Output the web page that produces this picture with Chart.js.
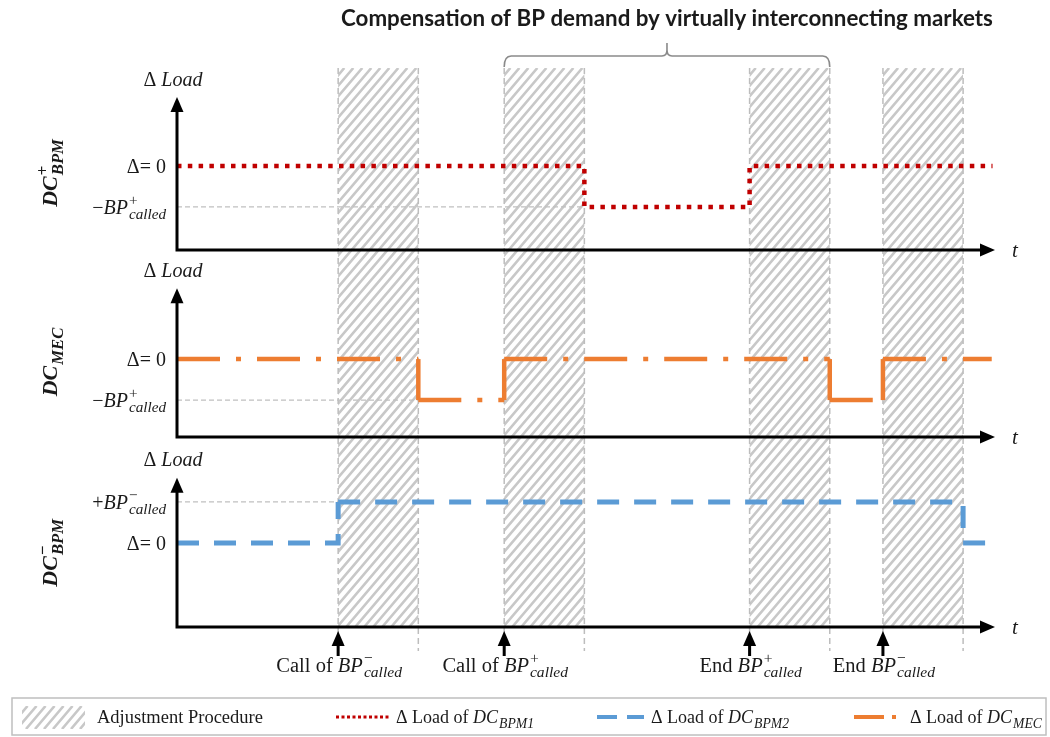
<!DOCTYPE html>
<html>
<head>
<meta charset="utf-8">
<script src="https://cdn.jsdelivr.net/npm/chart.js@4.4.1/dist/chart.umd.min.js"></script>
<style>
  html, body { margin: 0; padding: 0; background: #fff; }
  #wrap { position: relative; width: 1050px; height: 737px; }
</style>
</head>
<body>
<div id="wrap"><canvas id="chart" width="1050" height="737"></canvas></div>
<script>
// time runs 0..100, load is in units of BP_called
var bandStart = [19.7, 40.0, 70.0, 86.3];   // adjustment procedures
var bandEnd = [29.5, 49.8, 79.8, 96.1];

var bpm1X = [0, 49.8, 70.0, 99.7];          // DC+_BPM (red, dotted), step points
var bpm1Y = [0, -1, 0, 0];
var mecX = [0, 29.5, 29.5, 40.0, 40.0, 79.8, 79.8, 86.3, 86.3, 99.6]; // DC_MEC (orange), corner points
var mecY = [0, 0, -1, -1, 0, 0, -1, -1, 0, 0];
var bpm2X = [0, 19.7, 96.1, 98.8];          // DC-_BPM (blue, dashed), step points
var bpm2Y = [0, 1, 0, 0];

var topTicks = [0, -1];
var midTicks = [0, -1];
var botTicks = [1, 0];

var eventX = [19.7, 40.0, 70.0, 86.3];
var eventWord = ['Call of ', 'Call of ', 'End ', 'End '];
var eventSign = ['\u2212', '+', '+', '\u2212'];

var titleText = 'Compensation of BP demand by virtually interconnecting markets';

var SERIF = '"Liberation Serif", "DejaVu Serif", serif';
var SANS = 'Lato, "Open Sans", "Liberation Sans", sans-serif';
var INK = '#1a1a1a';
var SCRIPT = 0.76;

function pts(xs, ys) {
    return xs.map(function (x, i) { return { x: x, y: ys[i] }; });
}

// restart the dash pattern on every piece, like the original drawing
var restartDash = { borderDashOffset: function (c) { return c.p0DataIndex % 2 ? 0.01 : 0; } };

function fontFor(p, size) {
    return (p.i ? 'italic ' : '') + (p.b ? 'bold ' : '') + size + 'px ' + SERIF;
}

function richWidth(ctx, parts, size) {
    var w = 0;
    parts.forEach(function (p) {
        if (p.t !== undefined) {
            ctx.font = fontFor(p, size);
            w += ctx.measureText(p.t).width;
        } else {
            var ss = size * SCRIPT, sw = 0;
            ctx.font = fontFor({ b: p.b }, ss);
            if (p.sup) sw = ctx.measureText(p.sup).width;
            ctx.font = fontFor({ i: true, b: p.b }, ss);
            if (p.sub) sw = Math.max(sw, ctx.measureText(p.sub).width);
            w += sw + 1;
        }
    });
    return w;
}

// y is the vertical middle of the main text
function drawRich(ctx, parts, x, y, size, align) {
    var w = richWidth(ctx, parts, size);
    var cx = align === 'right' ? x - w : (align === 'center' ? x - w / 2 : x);
    var base = y + size * 0.33;
    ctx.textAlign = 'left';
    ctx.textBaseline = 'alphabetic';
    ctx.fillStyle = INK;
    parts.forEach(function (p) {
        if (p.t !== undefined) {
            ctx.font = fontFor(p, size);
            ctx.fillText(p.t, cx, base);
            cx += ctx.measureText(p.t).width;
        } else {
            var ss = size * SCRIPT, sw = 0;
            if (p.sup) {
                ctx.font = fontFor({ b: p.b }, ss);
                ctx.fillText(p.sup, cx + 1, base - size * 0.42);
                sw = ctx.measureText(p.sup).width;
            }
            if (p.sub) {
                ctx.font = fontFor({ i: true, b: p.b }, ss);
                ctx.fillText(p.sub, cx + 1, base + size * 0.27);
                sw = Math.max(sw, ctx.measureText(p.sub).width);
            }
            cx += sw + 1;
        }
    });
}

function hatch(ctx, x0, x1, top, bot, gap, width) {
    ctx.save();
    ctx.beginPath();
    ctx.rect(x0, top, x1 - x0, bot - top);
    ctx.clip();
    ctx.strokeStyle = '#c8c8c8';
    ctx.lineWidth = width;
    ctx.beginPath();
    var h = bot - top;
    for (var s = x0 - h; s < x1 + gap; s += gap) {
        ctx.moveTo(s, bot);
        ctx.lineTo(s + h * 0.85, top);
    }
    ctx.stroke();
    ctx.restore();
}

function arrowHead(ctx, tx, ty, dir) {
    // dir: 'up' or 'right'
    ctx.beginPath();
    if (dir === 'up') {
        ctx.moveTo(tx, ty);
        ctx.lineTo(tx - 6.5, ty + 15);
        ctx.lineTo(tx + 6.5, ty + 15);
    } else {
        ctx.moveTo(tx, ty);
        ctx.lineTo(tx - 15, ty - 6.5);
        ctx.lineTo(tx - 15, ty + 6.5);
    }
    ctx.closePath();
    ctx.fill();
}

function levelParts(v, sign) {
    if (v === 0) return [{ t: '\u0394= 0' }];
    return [{ t: v < 0 ? '\u2212' : '+' }, { t: 'BP', i: true }, { sup: sign, sub: 'called' }];
}

var panels = [
    { axis: 'yTop', ticks: topTicks, sign: '+', series: 0, arrow: 1.68, nameAt: -0.17,
      name: [{ t: 'DC', i: true, b: true }, { sup: '+', sub: 'BPM', b: true }] },
    { axis: 'yMid', ticks: midTicks, sign: '+', series: 1, arrow: 1.73, nameAt: -0.07,
      name: [{ t: 'DC', i: true, b: true }, { sub: 'MEC', b: true }] },
    { axis: 'yBot', ticks: botTicks, sign: '\u2212', series: 2, arrow: 1.59, nameAt: -0.24,
      name: [{ t: 'DC', i: true, b: true }, { sup: '\u2212', sub: 'BPM', b: true }] }
];

var diagram = {
    id: 'diagram',
    beforeDatasetsDraw: function (chart) {
        var ctx = chart.ctx, x = chart.scales.x, area = chart.chartArea;
        var bot = chart.scales.yBot.bottom;
        ctx.save();
        // hatched adjustment bands
        for (var i = 0; i < bandStart.length; i++) {
            var a = x.getPixelForValue(bandStart[i]), b = x.getPixelForValue(bandEnd[i]);
            hatch(ctx, a, b, area.top, bot, 9, 2.6);
            ctx.strokeStyle = '#bdbdbd';
            ctx.lineWidth = 1.5;
            ctx.setLineDash([6, 4]);
            ctx.beginPath();
            ctx.moveTo(a, area.top); ctx.lineTo(a, bot + 24);
            ctx.moveTo(b, area.top); ctx.lineTo(b, bot + 24);
            ctx.stroke();
            ctx.setLineDash([]);
        }
        // grey reference lines at the non-zero level
        panels.forEach(function (p) {
            var ys = chart.scales[p.axis];
            var d = chart.data.datasets[p.series].data;
            p.ticks.forEach(function (v) {
                if (v === 0) return;
                var end = d.find(function (q) { return q.y === v; });
                var py = ys.getPixelForValue(v);
                ctx.strokeStyle = '#c0c0c0';
                ctx.lineWidth = 1.2;
                ctx.setLineDash([5, 3]);
                ctx.beginPath();
                ctx.moveTo(area.left, py);
                ctx.lineTo(x.getPixelForValue(end.x), py);
                ctx.stroke();
                ctx.setLineDash([]);
            });
        });
        ctx.restore();
    },
    afterDatasetsDraw: function (chart) {
        var ctx = chart.ctx, x = chart.scales.x, area = chart.chartArea;
        ctx.save();
        ctx.fillStyle = '#000';
        ctx.strokeStyle = '#000';
        panels.forEach(function (p) {
            var ys = chart.scales[p.axis];
            var y0 = ys.bottom, tip = ys.getPixelForValue(p.arrow);
            // axes
            ctx.lineWidth = 3;
            ctx.strokeStyle = '#000';
            ctx.beginPath();
            ctx.moveTo(area.left, y0); ctx.lineTo(area.left, tip + 10);
            ctx.moveTo(area.left - 1.5, y0); ctx.lineTo(area.right - 10, y0);
            ctx.stroke();
            ctx.fillStyle = '#000';
            arrowHead(ctx, area.left, tip, 'up');
            arrowHead(ctx, area.right, y0, 'right');
            // axis titles
            drawRich(ctx, [{ t: '\u0394 ' }, { t: 'Load', i: true }], area.left - 4, tip - 18, 20, 'center');
            drawRich(ctx, [{ t: 't', i: true }], area.right + 20, y0, 21, 'center');
            // level labels
            p.ticks.forEach(function (v) {
                drawRich(ctx, levelParts(v, p.sign), area.left - 11, ys.getPixelForValue(v), 20, 'right');
            });
            // panel name, rotated
            ctx.save();
            ctx.translate(50, ys.getPixelForValue(p.nameAt));
            ctx.rotate(-Math.PI / 2);
            drawRich(ctx, p.name, 0, 0, 22, 'center');
            ctx.restore();
        });

        // event arrows and labels under the last panel
        var yb = chart.scales.yBot.bottom;
        eventX.forEach(function (v, i) {
            var px = x.getPixelForValue(v);
            ctx.fillStyle = '#000';
            arrowHead(ctx, px, yb + 4, 'up');
            ctx.fillRect(px - 1.5, yb + 15, 3, 14);
            drawRich(ctx, [{ t: eventWord[i] }, { t: 'BP', i: true }, { sup: eventSign[i], sub: 'called' }],
                px + 1, yb + 38, 20.5, 'center');
        });

        // title and brace over the compensated period
        var b0 = x.getPixelForValue(bandStart[1]), b1 = x.getPixelForValue(bandEnd[2]);
        var bm = (b0 + b1) / 2;
        ctx.fillStyle = INK;
        ctx.font = 'bold 20px ' + SANS;
        var tw = ctx.measureText(titleText).width;
        var ts = 20 * 652 / tw;
        ctx.font = 'bold ' + ts.toFixed(2) + 'px ' + SANS;
        ctx.textAlign = 'center';
        ctx.textBaseline = 'middle';
        ctx.fillText(titleText, bm, 19);
        ctx.strokeStyle = '#8a8a8a';
        ctx.lineWidth = 1.6;
        ctx.beginPath();
        ctx.moveTo(b0, 67);
        ctx.quadraticCurveTo(b0, 56, b0 + 7, 56);
        ctx.lineTo(bm - 5, 56);
        ctx.quadraticCurveTo(bm, 56, bm, 50);
        ctx.lineTo(bm, 43);
        ctx.moveTo(bm, 50);
        ctx.quadraticCurveTo(bm, 56, bm + 5, 56);
        ctx.lineTo(b1 - 7, 56);
        ctx.quadraticCurveTo(b1, 56, b1, 67);
        ctx.stroke();

        // legend box
        ctx.strokeStyle = '#bfbfbf';
        ctx.lineWidth = 1.5;
        ctx.strokeRect(12, 698, 1034, 37);
        var ly = 717;
        hatch(ctx, 22, 85, 706, 729, 9, 2.6);
        drawRich(ctx, [{ t: 'Adjustment Procedure' }], 97, ly, 18.5, 'left');
        var ds = chart.data.datasets;
        var sw = [[336, 389, [3, 2.5], 3], [597, 644, [20, 10], 4], [854, 903, [30, 8, 4, 8], 4]];
        var order = [0, 2, 1];
        var subs = ['BPM1', 'BPM2', 'MEC'];
        sw.forEach(function (s, k) {
            var d = ds[order[k]];
            ctx.strokeStyle = d.borderColor;
            ctx.lineWidth = s[3];
            ctx.setLineDash(s[2]);
            ctx.beginPath();
            ctx.moveTo(s[0], ly); ctx.lineTo(s[1], ly);
            ctx.stroke();
            ctx.setLineDash([]);
            drawRich(ctx, [{ t: '\u0394 Load of ' }, { t: 'DC', i: true }, { sub: subs[k] }], s[1] + 7, ly, 18, 'left');
        });
        ctx.restore();
    }
};

function hiddenAxis(weight, stackWeight, min, max) {
    return {
        type: 'linear', position: 'left', stack: 'panels', stackWeight: stackWeight, weight: weight,
        min: min, max: max,
        ticks: { display: false },
        grid: { display: false, drawTicks: false },
        border: { display: false }
    };
}

new Chart(document.getElementById('chart').getContext('2d'), {
    type: 'line',
    data: {
        datasets: [{
            label: '\u0394 Load of DC_BPM1',
            data: pts(bpm1X, bpm1Y),
            yAxisID: 'yTop',
            borderColor: '#c00000',
            borderWidth: 4.5,
            borderDash: [4.5, 6.3],
            stepped: true,
            pointRadius: 0,
            fill: false
        }, {
            label: '\u0394 Load of DC_MEC',
            data: pts(mecX, mecY),
            yAxisID: 'yMid',
            borderColor: '#ed7d31',
            borderWidth: 4.5,
            borderDash: [43, 16, 5, 16],
            segment: restartDash,
            pointRadius: 0,
            tension: 0,
            fill: false
        }, {
            label: '\u0394 Load of DC_BPM2',
            data: pts(bpm2X, bpm2Y),
            yAxisID: 'yBot',
            borderColor: '#5b9bd5',
            borderWidth: 5,
            borderDash: [22, 15],
            stepped: true,
            segment: restartDash,
            pointRadius: 0,
            fill: false
        }]
    },
    options: {
        responsive: false,
        animation: false,
        events: [],
        layout: { padding: { left: 177, right: 55, top: 68, bottom: 110 } },
        plugins: { legend: { display: false }, tooltip: { enabled: false }, title: { display: false } },
        scales: {
            x: { type: 'linear', min: 0, max: 100, display: false },
            yTop: hiddenAxis(3, 182, -2.05, 2.39),
            yMid: hiddenAxis(2, 187, -1.9, 2.66),
            yBot: hiddenAxis(1, 190, -2.05, 2.585)
        }
    },
    plugins: [diagram]
});
</script>
</body>
</html>
